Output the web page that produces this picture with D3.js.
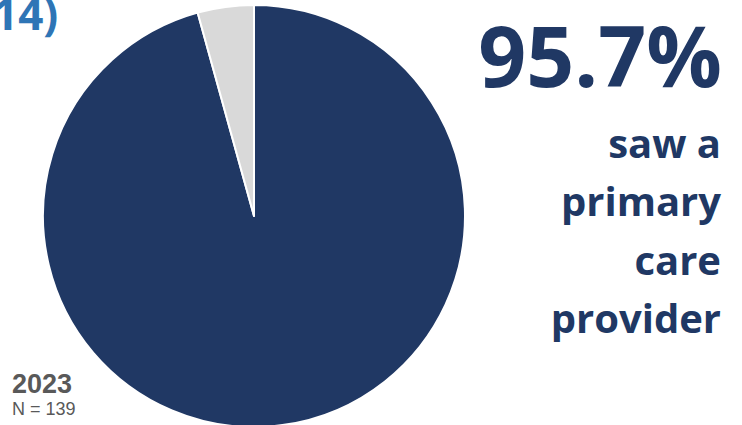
<!DOCTYPE html>
<html>
<head>
<meta charset="utf-8">
<script src="https://cdn.jsdelivr.net/npm/d3@7"></script>
<style>
  html, body { margin: 0; padding: 0; background: #fff; }
  svg { display: block; }
</style>
</head>
<body>
<div id="chart"></div>
<script>
// data
var categories = ["Saw a primary care provider", "Did not"];
var shares = [95.7, 4.3];
var colors = ["#203864", "#D9D9D9"];
var headline = "95.7%";
var captionLines = ["saw a", "primary", "care", "provider"];
var yearLabel = "2023";
var sampleLabel = "N = 139";
var cutTitle = "14)";

var width = 742, height = 425;
var cx = 254, cy = 216, radius = 211;

var svg = d3.select("#chart").append("svg")
  .attr("width", width)
  .attr("height", height);

var pie = d3.pie()
  .value(function(d) { return d; })
  .sort(null)
  .startAngle(0)
  .endAngle(2 * Math.PI);

var arc = d3.arc()
  .innerRadius(0)
  .outerRadius(radius);

var g = svg.append("g")
  .attr("transform", "translate(" + cx + "," + cy + ")");

g.selectAll("path")
  .data(pie(shares))
  .enter().append("path")
  .attr("d", arc)
  .attr("fill", function(d, i) { return colors[i]; })
  .attr("stroke", "#fff")
  .attr("stroke-width", 2)
  .attr("stroke-linejoin", "round");

// title fragment, cut off at top-left like the source slide
svg.append("text")
  .attr("x", -7)
  .attr("y", 30)
  .attr("font-family", "'Open Sans', sans-serif")
  .attr("font-weight", 700)
  .attr("font-size", 44)
  .attr("fill", "#2E75B6")
  .text(cutTitle);

// big percentage
svg.append("text")
  .attr("x", 722)
  .attr("y", 87)
  .attr("text-anchor", "end")
  .attr("font-family", "'Open Sans', sans-serif")
  .attr("font-weight", 700)
  .attr("font-size", 84)
  .attr("fill", "#203864")
  .text(headline);

svg.append("g").selectAll("text")
  .data(captionLines)
  .enter().append("text")
  .attr("x", 721)
  .attr("y", function(d, i) { return 158 + i * 58.3; })
  .attr("text-anchor", "end")
  .attr("font-family", "'Open Sans', sans-serif")
  .attr("font-weight", 700)
  .attr("font-size", 40)
  .attr("fill", "#203864")
  .text(function(d) { return d; });

svg.append("text")
  .attr("x", 12)
  .attr("y", 393)
  .attr("font-family", "'Liberation Sans', Arial, sans-serif")
  .attr("font-weight", 700)
  .attr("font-size", 27)
  .attr("fill", "#595959")
  .text(yearLabel);

svg.append("text")
  .attr("x", 12)
  .attr("y", 415)
  .attr("font-family", "'Liberation Sans', Arial, sans-serif")
  .attr("font-size", 18)
  .attr("fill", "#595959")
  .text(sampleLabel);
</script>
</body>
</html>
